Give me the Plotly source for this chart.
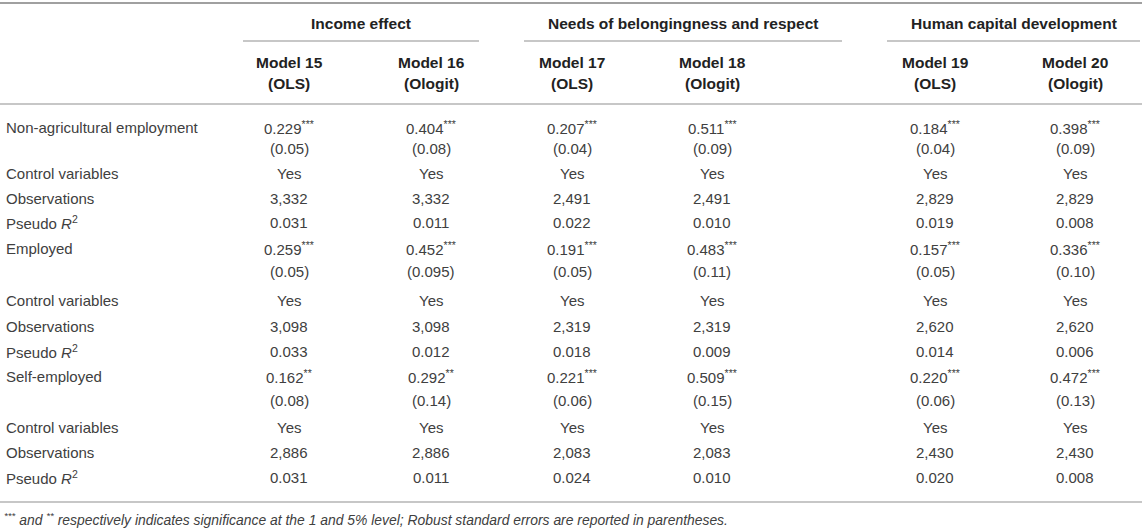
"""Regression table: employment type and subjective well-being dimensions (Models 15-20)."""

import plotly.graph_objects as go

GROUPS = ["Income effect", "Needs of belongingness and respect", "Human capital development"]
MODELS = ["Model 15", "Model 16", "Model 17", "Model 18", "Model 19", "Model 20"]
ESTIMATORS = ["OLS", "Ologit", "OLS", "Ologit", "OLS", "Ologit"]

VARIABLES = ["Non-agricultural employment", "Employed", "Self-employed"]

COEF_NONAG = ["0.229", "0.404", "0.207", "0.511", "0.184", "0.398"]
STARS_NONAG = ["***", "***", "***", "***", "***", "***"]
SE_NONAG = ["0.05", "0.08", "0.04", "0.09", "0.04", "0.09"]
CONTROLS_NONAG = ["Yes", "Yes", "Yes", "Yes", "Yes", "Yes"]
OBS_NONAG = [3332, 3332, 2491, 2491, 2829, 2829]
R2_NONAG = ["0.031", "0.011", "0.022", "0.010", "0.019", "0.008"]

COEF_EMP = ["0.259", "0.452", "0.191", "0.483", "0.157", "0.336"]
STARS_EMP = ["***", "***", "***", "***", "***", "***"]
SE_EMP = ["0.05", "0.095", "0.05", "0.11", "0.05", "0.10"]
CONTROLS_EMP = ["Yes", "Yes", "Yes", "Yes", "Yes", "Yes"]
OBS_EMP = [3098, 3098, 2319, 2319, 2620, 2620]
R2_EMP = ["0.033", "0.012", "0.018", "0.009", "0.014", "0.006"]

COEF_SELF = ["0.162", "0.292", "0.221", "0.509", "0.220", "0.472"]
STARS_SELF = ["**", "**", "***", "***", "***", "***"]
SE_SELF = ["0.08", "0.14", "0.06", "0.15", "0.06", "0.13"]
CONTROLS_SELF = ["Yes", "Yes", "Yes", "Yes", "Yes", "Yes"]
OBS_SELF = [2886, 2886, 2083, 2083, 2430, 2430]
R2_SELF = ["0.031", "0.011", "0.024", "0.010", "0.020", "0.008"]

FOOTNOTE = (
    "<sup>***</sup> and <sup>**</sup> respectively indicates significance at the 1 and 5% level; "
    "Robust standard errors are reported in parentheses."
)

# layout in page pixels (axes run 1:1 with the 1145x530 page)
WIDTH, HEIGHT = 1145, 530
LABEL_X = 4
COL_X = [289, 431, 572, 712, 935, 1075]
GROUP_SPANS = [(243, 479), (524, 842), (887, 1140)]
# y of coefficient, std. error, controls, observations, pseudo R2 for each block
ROW_Y = [
    [127, 148, 173, 198, 222],
    [248, 271, 300, 326, 351],
    [376, 400, 427, 452, 477],
]
TEXT_COLOR = "#404040"
HEAD_COLOR = "#222222"
LINE_COLOR = "#b4b4b4"
FONT = "Liberation Sans, Arial, Helvetica, sans-serif"


def _text(x, y, text, *, size=15, color=TEXT_COLOR, xanchor="center"):
    return dict(
        x=x, y=y, xref="x", yref="y", text=text, showarrow=False,
        xanchor=xanchor, yanchor="middle",
        font=dict(family=FONT, size=size, color=color),
    )


def _hline(x0, x1, y, width=1.5, color=LINE_COLOR):
    return dict(type="line", xref="x", yref="y", x0=x0, x1=x1, y0=y, y1=y,
                line=dict(color=color, width=width))


def main():
    annotations = []
    shapes = [
        _hline(0, WIDTH - 3, 3, width=2.2, color="#a0a0a0"),
        _hline(0, WIDTH - 3, 104),
        _hline(0, WIDTH - 3, 502),
    ]

    for group, (x0, x1) in zip(GROUPS, GROUP_SPANS):
        annotations.append(_text((x0 + x1) / 2, 23, f"<b>{group}</b>", size=15.5, color=HEAD_COLOR))
        shapes.append(_hline(x0, x1, 41))

    for x, model, est in zip(COL_X, MODELS, ESTIMATORS):
        annotations.append(_text(x, 62, f"<b>{model}</b>", size=15.5, color=HEAD_COLOR))
        annotations.append(_text(x, 83, f"<b>({est})</b>", size=15.5, color=HEAD_COLOR))

    blocks = [
        (COEF_NONAG, STARS_NONAG, SE_NONAG, CONTROLS_NONAG, OBS_NONAG, R2_NONAG),
        (COEF_EMP, STARS_EMP, SE_EMP, CONTROLS_EMP, OBS_EMP, R2_EMP),
        (COEF_SELF, STARS_SELF, SE_SELF, CONTROLS_SELF, OBS_SELF, R2_SELF),
    ]
    row_labels = ["Control variables", "Observations", "Pseudo <i>R</i><sup>2</sup>"]

    for rows, variable, (coef, stars, se, controls, obs, r2) in zip(ROW_Y, VARIABLES, blocks):
        y_coef, y_se, y_ctrl, y_obs, y_r2 = rows
        annotations.append(_text(LABEL_X, y_coef, variable, xanchor="left"))
        for label, y in zip(row_labels, [y_ctrl, y_obs, y_r2]):
            annotations.append(_text(LABEL_X, y, label, xanchor="left"))
        for i, x in enumerate(COL_X):
            annotations.append(_text(x, y_coef, f"{coef[i]}<sup>{stars[i]}</sup>"))
            annotations.append(_text(x, y_se, f"({se[i]})"))
            annotations.append(_text(x, y_ctrl, controls[i]))
            annotations.append(_text(x, y_obs, f"{obs[i]:,}"))
            annotations.append(_text(x, y_r2, r2[i]))

    annotations.append(_text(LABEL_X - 2, 519, f"<i>{FOOTNOTE}</i>", size=13.9, xanchor="left"))

    fig = go.Figure()
    fig.update_layout(
        width=WIDTH,
        height=HEIGHT,
        margin=dict(l=0, r=0, t=0, b=0),
        paper_bgcolor="white",
        plot_bgcolor="white",
        xaxis=dict(range=[0, WIDTH], visible=False, fixedrange=True),
        yaxis=dict(range=[HEIGHT, 0], visible=False, fixedrange=True),
        showlegend=False,
        hovermode=False,
        annotations=annotations,
        shapes=shapes,
    )
    # drop the browser's default 8px body margin so the table sits at the page corner
    fig.write_html(
        "out.html",
        config={"displayModeBar": False, "staticPlot": True},
        post_script="document.body.style.margin = '0';",
    )


if __name__ == "__main__":
    main()
